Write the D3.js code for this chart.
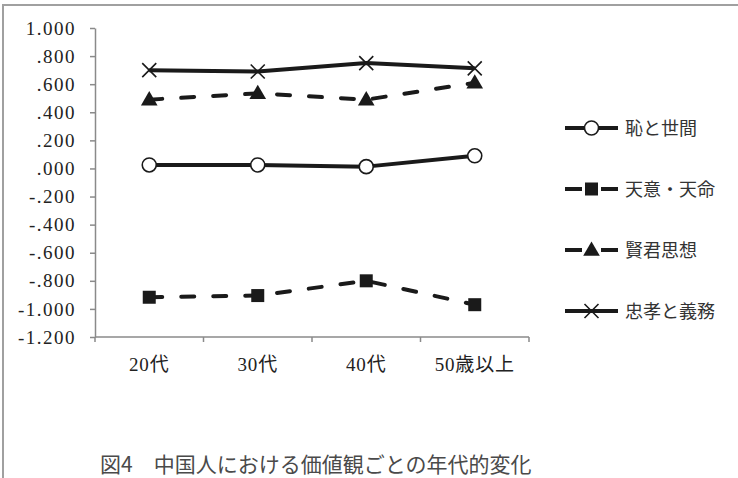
<!DOCTYPE html>
<html>
<head>
<meta charset="utf-8">
<script src="https://cdn.jsdelivr.net/npm/d3@7"></script>
<style>
  html, body { margin: 0; padding: 0; background: #fff; }
  svg { display: block; }
</style>
</head>
<body>
<svg id="chart" width="738" height="478"></svg>
<script>
const categories = ["20代", "30代", "40代", "50歳以上"];
const seriesNames = ["恥と世間", "天意・天命", "賢君思想", "忠孝と義務"];
const hajiToSeken = [0.025, 0.025, 0.013, 0.090];
const tenniTenmei = [-0.917, -0.905, -0.800, -0.970];
const kenkunShiso = [0.490, 0.535, 0.490, 0.610];
const chukoToGimu = [0.700, 0.690, 0.750, 0.713];
const yTicks = [-1.2, -1.0, -0.8, -0.6, -0.4, -0.2, 0, 0.2, 0.4, 0.6, 0.8, 1.0];
const caption = "図4　中国人における価値観ごとの年代的変化";

const svg = d3.select("#chart");
const width = 738, height = 478;
const margin = { top: 28, left: 95 };
const innerWidth = 434;
const innerHeight = 309;

const ink = "#1a1a1a";
const axisGray = "#8a8a8a";
const numFont = "Liberation Serif, DejaVu Serif, Noto Sans CJK JP, serif";
const jpFont = "Noto Sans CJK JP, sans-serif";

// outer frame (top and left edges only)
svg.append("path")
  .attr("d", `M3,${height} L3,5 L${width},5`)
  .attr("fill", "none")
  .attr("stroke", "#a0a0a0")
  .attr("stroke-width", 2);

const g = svg.append("g")
  .attr("transform", `translate(${margin.left},${margin.top})`);

const x = d3.scaleBand()
  .domain(categories)
  .range([0, innerWidth])
  .padding(0);

const y = d3.scaleLinear()
  .domain([-1.2, 1.0])
  .range([innerHeight, 0]);

const fmt = v => {
  let s = Math.abs(v).toFixed(3);
  if (Math.abs(v) < 1) s = s.slice(1);
  return (v < -1e-9 ? "-" : "") + s;
};

// y axis
const yAxis = g.append("g")
  .call(d3.axisLeft(y).tickValues(yTicks).tickFormat(fmt).tickSize(5).tickSizeOuter(0).tickPadding(14));
yAxis.attr("font-family", numFont).attr("font-size", 19);
yAxis.select(".domain").attr("stroke", axisGray).attr("stroke-width", 1.5);
yAxis.selectAll(".tick line").attr("stroke", axisGray).attr("stroke-width", 1.5);
yAxis.selectAll(".tick text").attr("fill", "#222").attr("letter-spacing", 1.5);

// x axis: line with ticks at band boundaries
const xg = g.append("g").attr("transform", `translate(0,${innerHeight})`);
xg.append("line")
  .attr("x1", 0).attr("x2", innerWidth)
  .attr("stroke", axisGray).attr("stroke-width", 1.5);
const bounds = categories.map(c => x(c)).concat([x(categories[categories.length - 1]) + x.bandwidth()]);
xg.selectAll(".xtick")
  .data(bounds)
  .enter()
  .append("line")
  .attr("class", "xtick")
  .attr("x1", d => d).attr("x2", d => d)
  .attr("y1", 0).attr("y2", 5)
  .attr("stroke", axisGray).attr("stroke-width", 1.5);
xg.selectAll(".xlabel")
  .data(categories)
  .enter()
  .append("text")
  .attr("class", "xlabel")
  .attr("x", d => x(d) + x.bandwidth() / 2)
  .attr("y", 34)
  .attr("text-anchor", "middle")
  .attr("font-family", numFont)
  .attr("font-size", 19)
  .attr("letter-spacing", 0.8)
  .attr("fill", "#222")
  .text(d => d);

const seriesData = [
  { name: seriesNames[0], values: hajiToSeken, dash: null, marker: "circle" },
  { name: seriesNames[1], values: tenniTenmei, dash: "13,19", marker: "square" },
  { name: seriesNames[2], values: kenkunShiso, dash: "13,19", marker: "triangle" },
  { name: seriesNames[3], values: chukoToGimu, dash: null, marker: "cross" }
];

const line = d3.line()
  .x((d, i) => x(categories[i]) + x.bandwidth() / 2)
  .y(d => y(d));

function drawMarker(sel, type, cx, cy) {
  if (type === "circle") {
    sel.append("circle")
      .attr("cx", cx).attr("cy", cy).attr("r", 7)
      .attr("fill", "#fff").attr("stroke", ink).attr("stroke-width", 1.6);
  } else if (type === "square") {
    sel.append("rect")
      .attr("x", cx - 6.5).attr("y", cy - 6.5)
      .attr("width", 13).attr("height", 13)
      .attr("fill", ink);
  } else if (type === "triangle") {
    sel.append("path")
      .attr("transform", `translate(${cx},${cy + 1})`)
      .attr("d", d3.symbol(d3.symbolTriangle, 120)())
      .attr("fill", ink);
  } else {
    sel.append("path")
      .attr("d", `M${cx - 7},${cy - 7} L${cx + 7},${cy + 7} M${cx - 7},${cy + 7} L${cx + 7},${cy - 7}`)
      .attr("stroke", ink).attr("stroke-width", 1.6).attr("fill", "none");
  }
}

seriesData.forEach(s => {
  g.append("path")
    .datum(s.values)
    .attr("d", line)
    .attr("fill", "none")
    .attr("stroke", ink)
    .attr("stroke-width", 4)
    .attr("stroke-linecap", s.dash ? "round" : "butt")
    .attr("stroke-linejoin", "round")
    .attr("stroke-dasharray", s.dash);
  const mg = g.append("g");
  s.values.forEach((v, i) => {
    drawMarker(mg, s.marker, x(categories[i]) + x.bandwidth() / 2, y(v));
  });
});

// legend
const legend = svg.append("g").attr("transform", "translate(565,128)");
seriesData.forEach((s, i) => {
  const item = legend.append("g").attr("transform", `translate(0,${i * 61})`);
  if (s.dash) {
    item.append("line").attr("x1", 0).attr("x2", 17).attr("stroke", ink).attr("stroke-width", 4);
    item.append("line").attr("x1", 36).attr("x2", 53).attr("stroke", ink).attr("stroke-width", 4);
  } else {
    item.append("line").attr("x1", 0).attr("x2", 53).attr("stroke", ink).attr("stroke-width", 4);
  }
  drawMarker(item, s.marker, 26.5, 0);
  item.append("text")
    .attr("x", 60)
    .attr("y", 7)
    .attr("font-family", jpFont)
    .attr("font-size", 18)
    .attr("fill", "#333")
    .text(s.name);
});

// caption
svg.append("text")
  .attr("x", 100)
  .attr("y", 472)
  .attr("font-family", jpFont)
  .attr("font-size", 21)
  .attr("fill", "#4a4a4a")
  .text(caption);
</script>
</body>
</html>
